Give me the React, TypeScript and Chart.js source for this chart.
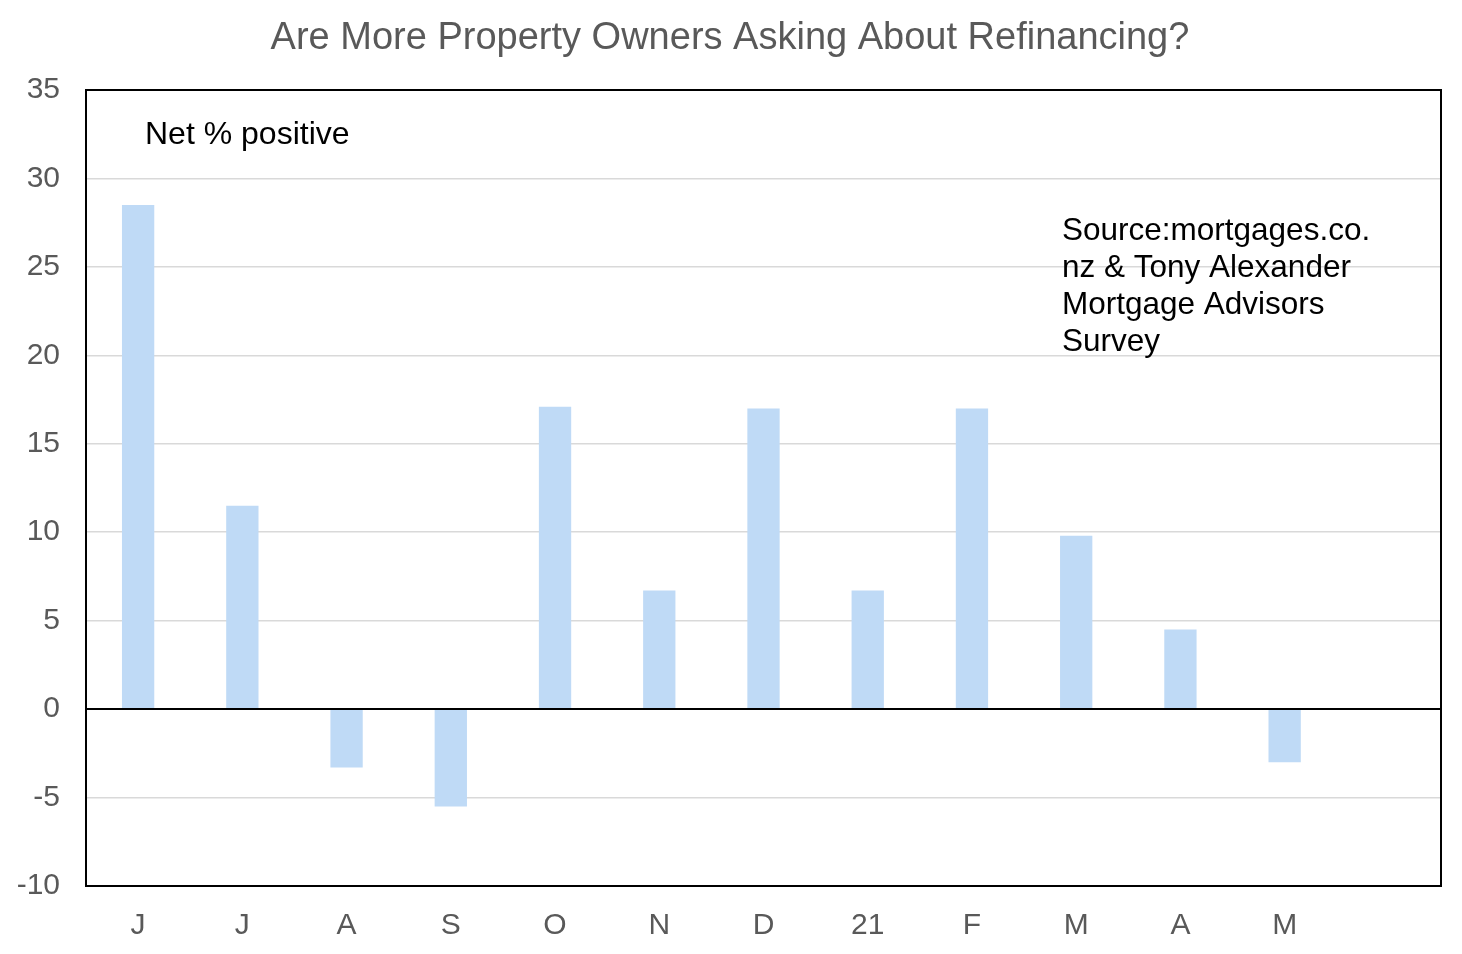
import { useEffect, useRef } from "react";
import { Chart, registerables } from "chart.js";

Chart.register(...registerables);

const months = ["J", "J", "A", "S", "O", "N", "D", "21", "F", "M", "A", "M", ""];
const netPositive = [28.5, 11.5, -3.3, -5.5, 17.1, 6.7, 17.0, 6.7, 17.0, 9.8, 4.5, -3.0, null];
const yTicks = [-10, -5, 0, 5, 10, 15, 20, 25, 30, 35];
const sourceLines = ["Source:mortgages.co.", "nz & Tony Alexander", "Mortgage Advisors", "Survey"];

const FONT = "'Liberation Sans', Arial, sans-serif";

const extras = {
  id: "extras",
  afterDraw(chart: Chart) {
    const { ctx, chartArea } = chart;
    ctx.save();
    // title
    ctx.fillStyle = "#595959";
    ctx.font = `38px ${FONT}`;
    ctx.textAlign = "center";
    ctx.textBaseline = "middle";
    ctx.fillText("Are More Property Owners Asking About Refinancing?", 730, 39);

    // plot frame
    ctx.strokeStyle = "#000";
    ctx.lineWidth = 2;
    ctx.strokeRect(chartArea.left, chartArea.top, chartArea.right - chartArea.left, chartArea.bottom - chartArea.top);

    // annotations
    ctx.fillStyle = "#000";
    ctx.textAlign = "left";
    ctx.font = `32px ${FONT}`;
    ctx.fillText("Net % positive", chartArea.left + 59, chartArea.top + 45);
    ctx.font = `31.5px ${FONT}`;
    sourceLines.forEach((line, i) => {
      ctx.fillText(line, chartArea.left + 976, chartArea.top + 141 + i * 37);
    });
    ctx.restore();
  },
};

export default function App() {
  const chartRef = useRef<HTMLCanvasElement>(null);

  useEffect(() => {
    document.body.style.margin = "0";
    if (!chartRef.current) return;
    const ctx = chartRef.current.getContext("2d");
    if (!ctx) return;

    const myChart = new Chart(ctx, {
      type: "bar",
      data: {
        labels: months,
        datasets: [
          {
            label: "Net % positive",
            data: netPositive,
            backgroundColor: "#bfdaf6",
            borderWidth: 0,
            categoryPercentage: 1,
            barPercentage: 0.31,
          },
        ],
      },
      options: {
        animation: false,
        responsive: true,
        maintainAspectRatio: false,
        layout: { padding: { top: 90, right: 21, bottom: 0, left: 0 } },
        plugins: {
          legend: { display: false },
          title: { display: false },
          tooltip: { enabled: false },
        },
        scales: {
          x: {
            grid: { display: false, drawTicks: false },
            border: { display: true, color: "#000", width: 2 },
            ticks: {
              color: "#595959",
              font: { family: FONT, size: 30 },
              padding: 22,
              maxRotation: 0,
              autoSkip: false,
            },
            afterFit(scale) {
              scale.height = 68;
            },
          },
          y: {
            min: -10,
            max: 35,
            afterBuildTicks(scale) {
              scale.ticks = yTicks.map((v) => ({ value: v }));
            },
            grid: {
              drawTicks: false,
              color: (c) => (c.tick && c.tick.value === 0 ? "#000" : "#d9d9d9"),
              lineWidth: (c) => (c.tick && c.tick.value === 0 ? 2 : 1.5),
            },
            border: { display: true, color: "#000", width: 2 },
            ticks: {
              color: "#595959",
              font: { family: FONT, size: 30 },
              padding: 26,
            },
            afterFit(scale) {
              scale.width = 86;
            },
          },
        },
      },
      plugins: [extras],
    });

    return () => {
      myChart.destroy();
    };
  }, []);

  return (
    <div style={{ width: 1462, height: 954, position: "relative", background: "#fff" }}>
      <canvas ref={chartRef} />
    </div>
  );
}
